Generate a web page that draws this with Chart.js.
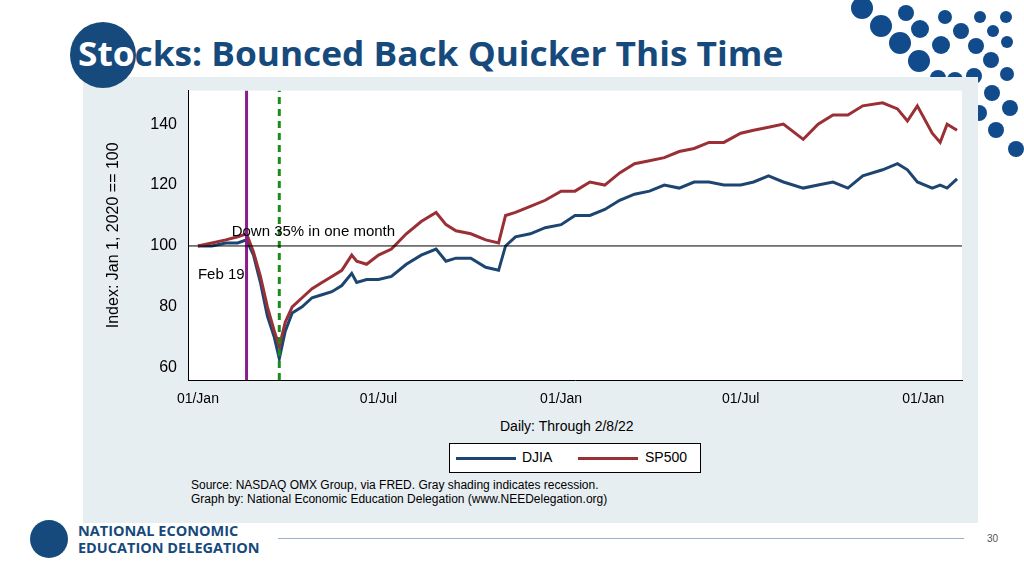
<!DOCTYPE html>
<html><head><meta charset="utf-8">
<script src="https://cdn.jsdelivr.net/npm/chart.js@4/dist/chart.umd.min.js"></script>
<style>
body{margin:0;width:1024px;height:576px;background:#fff;position:relative;overflow:hidden;font-family:"Liberation Sans",Arial,sans-serif}
.dot{position:absolute;border-radius:50%;background:#114b8c}
#panel{position:absolute;left:83px;top:77px;width:895px;height:446px;background:#e7eef2}
#title{position:absolute;left:78px;top:30px;font-family:"Open Sans",sans-serif;font-size:34px;font-weight:bold;color:#174a7c;transform-origin:0 0;white-space:nowrap}
#circ{position:absolute;left:70px;top:22px;width:66px;height:66px;border-radius:50%;background:#174a7c}
#wrap{position:absolute;left:100px;top:78px;width:866px;height:340px}
.t{position:absolute;color:#000;font-size:14px}
#legend{position:absolute;left:449px;top:443px;width:250px;height:28px;border:1px solid #000;background:#fff;font-size:14px}
</style></head><body>
<div id="dots"></div>
<div id="panel"></div>
<div id="circ"></div>
<div id="title"><span style="color:#fff">Sto</span>cks: Bounced Back Quicker This Time</div>
<div id="wrap"><canvas id="c"></canvas></div>
<div class="t" style="left:500px;top:418px">Daily: Through 2/8/22</div>
<div id="legend">
 <span style="position:absolute;left:6px;top:13px;width:60px;height:3px;background:#1d4571"></span>
 <span style="position:absolute;left:72px;top:5px">DJIA</span>
 <span style="position:absolute;left:128px;top:13px;width:60px;height:3px;background:#9a2f36"></span>
 <span style="position:absolute;left:195px;top:5px">SP500</span>
</div>
<div class="t" style="left:191px;top:478px;font-size:12px;line-height:14px">Source: NASDAQ OMX Group, via FRED. Gray shading indicates recession.<br>Graph by: National Economic Education Delegation (www.NEEDelegation.org)</div>
<div style="position:absolute;left:30px;top:520px;width:38px;height:38px;border-radius:50%;background:#174a7c"></div>
<div style="position:absolute;left:78px;top:522px;font-family:'Open Sans',sans-serif;font-weight:bold;font-size:14.5px;line-height:17px;color:#174a7c">NATIONAL ECONOMIC<br>EDUCATION DELEGATION</div>
<div style="position:absolute;left:278px;top:538px;width:686px;height:1px;background:#9bb0c4"></div>
<div style="position:absolute;left:987px;top:533px;font-size:10px;color:#555">30</div>
<script>
const dotPts=[[862,8,22],[881,26,22],[906,13,16],[900,43,22],[920,29,18],[945,17,14],[919,61,22],[941,45,18],[961,31,16],[980,17,12],[1006,17,12],[993,31,12],[976,46,16],[1007,42,12],[991,60,16],[1007,74,14],[938,78,16],[955,80,16],[974,76,16],[992,93,16],[1010,108,16],[979,113,16],[996,130,16],[1016,149,16]];
dotPts.forEach(([x,y,s])=>{const d=document.createElement('div');d.className='dot';d.style.cssText=`left:${x-s/2}px;top:${y-s/2}px;width:${s}px;height:${s}px`;document.getElementById('dots').appendChild(d);});
const tt=document.getElementById('title');tt.style.transform=`scaleX(${705/tt.offsetWidth})`;

// days since 2020-01-01
const days=[0,14,28,40,49,56,63,70,77,82,88,95,105,115,125,135,145,155,160,170,182,195,210,225,240,250,260,275,290,303,310,320,335,350,366,380,395,410,425,440,455,470,485,500,515,530,547,560,575,590,610,625,640,655,670,690,705,715,725,740,748,755,765];
const djia=[100,100,101,101,102,97,88,77,70,63,72,78,80,83,84,85,87,91,88,89,89,90,94,97,99,95,96,96,93,92,100,103,104,106,107,110,110,112,115,117,118,120,119,121,121,120,120,121,123,121,119,120,121,119,123,125,127,125,121,119,120,119,122];
const sp500=[100,101,102,103,104,98,90,80,72,67,75,80,83,86,88,90,92,97,95,94,97,99,104,108,111,107,105,104,102,101,110,111,113,115,118,118,121,120,124,127,128,129,131,132,134,134,137,138,139,140,135,140,143,143,146,147,145,141,146,137,134,140,138];
const tickDays=[0,182,366,547,731];
const tickLabels=['01/Jan','01/Jul','01/Jan','01/Jul','01/Jan'];
const yTicks=[60,80,100,120,140];

const pts=a=>days.map((d,i)=>({x:d,y:a[i]}));
const notes={id:'notes',afterDatasetsDraw(ch){const {ctx,scales:{x,y}}=ch;ctx.save();ctx.fillStyle='#000';ctx.font='15px "Liberation Sans", Arial';ctx.textBaseline='middle';ctx.fillText('Down 35% in one month',x.getPixelForValue(34),y.getPixelForValue(104.5));ctx.fillText('Feb 19',x.getPixelForValue(0),y.getPixelForValue(90.5));ctx.restore();}};
const bg={id:'bg',beforeDraw(ch){const a=ch.chartArea,c=ch.ctx;c.save();c.fillStyle='#fff';c.fillRect(a.left,a.top,a.right-a.left,a.bottom-a.top);c.restore();}};
new Chart(document.getElementById('c'),{type:'line',
data:{datasets:[
 {data:[{x:-10,y:100},{x:770,y:100}],borderColor:'#000',borderWidth:1},
 {data:[{x:49,y:56},{x:49,y:151}],borderColor:'#8a1c8c',borderWidth:3},
 {data:[{x:82,y:56},{x:82,y:151}],borderColor:'#1a8c1a',borderWidth:3,borderDash:[7,5]},
 {data:pts(sp500),borderColor:'#9a2f36',borderWidth:3},
 {data:pts(djia),borderColor:'#1d4571',borderWidth:3}]},
options:{responsive:true,maintainAspectRatio:false,animation:false,
 layout:{padding:{top:2,right:4}},
 elements:{point:{radius:0},line:{tension:0}},
 plugins:{legend:{display:false},tooltip:{enabled:false}},
 scales:{
  x:{type:'linear',min:-10,max:770,grid:{display:false,drawTicks:true},border:{color:'#000'},
     afterBuildTicks:s=>{s.ticks=tickDays.map(v=>({value:v}));},
     afterFit:s=>{s.height=38;},
     ticks:{color:'#000',font:{size:14,family:'"Liberation Sans", Arial'},callback:(v)=>tickLabels[tickDays.indexOf(v)]}},
  y:{min:56,max:151,grid:{display:false},border:{color:'#000'},
     afterBuildTicks:s=>{s.ticks=yTicks.map(v=>({value:v}));},
     afterFit:s=>{s.width=88;},
     title:{display:true,text:'Index: Jan 1, 2020 == 100',color:'#000',font:{size:16,family:'"Liberation Sans", Arial'}},
     ticks:{color:'#000',font:{size:16,family:'"Liberation Sans", Arial'}}}}},
plugins:[bg,notes]});
</script></body></html>
